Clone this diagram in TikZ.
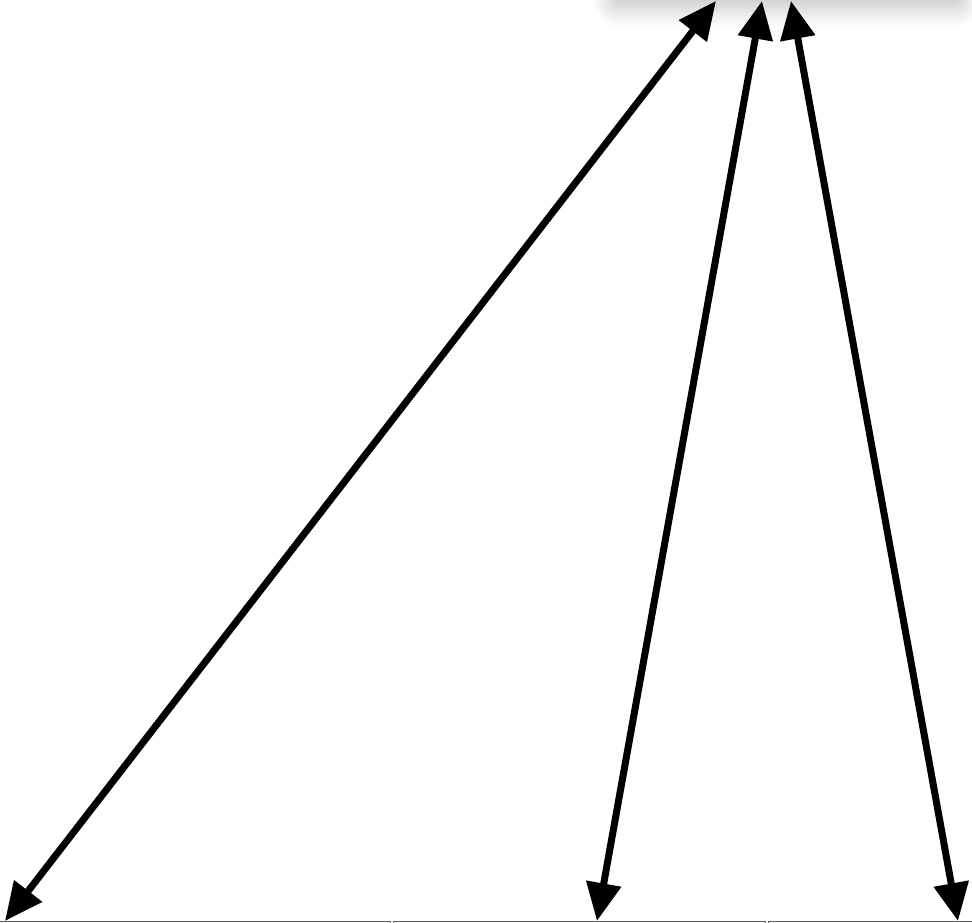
\documentclass[tikz,border=0pt]{standalone}
\usepackage{xcolor}
\usepackage{tikz}
\usetikzlibrary{arrows.meta, shadows.blur}
\definecolor{edgecol}{RGB}{95, 95, 95}

\begin{document}
\begin{tikzpicture}[
        x=1pt, y=1pt,
        hubbox/.style={rectangle, fill=white, minimum width=338pt, minimum height=80pt, anchor=south west,
            blur shadow={shadow xshift=0pt, shadow yshift=-10pt, shadow blur radius=26pt, shadow blur steps=20, shadow opacity=32}},
        leafbox/.style={rectangle, draw=edgecol, line width=1.3pt, fill=white, minimum height=80pt, anchor=north west},
        link/.style={{Triangle[length=38pt, width=34pt]}-{Triangle[length=38pt, width=34pt]}, line width=7pt}
    ]
    \useasboundingbox (0,0) rectangle (972,923);
    \clip (0,0) rectangle (972,923);

    % Top box (only its shadow shows)
    \node[hubbox] (hub) at (618,931) {};

    % Bottom boxes
    \node[leafbox, minimum width=392pt] (leftbox) at (-2,2) {};
    \node[leafbox, minimum width=372pt] (midbox) at (393,2) {};
    \node[leafbox, minimum width=210pt] (rightbox) at (768,2) {};

    % End points
    \coordinate (hubA) at (716,922);
    \coordinate (hubB) at (762,922);
    \coordinate (hubC) at (791,922);
    \coordinate (leafA) at (5,2);
    \coordinate (leafB) at (597,2);
    \coordinate (leafC) at (958,2);

    % Arrows
    \draw[link] (hubA) -- (leafA);
    \draw[link] (hubB) -- (leafB);
    \draw[link] (hubC) -- (leafC);

\end{tikzpicture}
\end{document}
